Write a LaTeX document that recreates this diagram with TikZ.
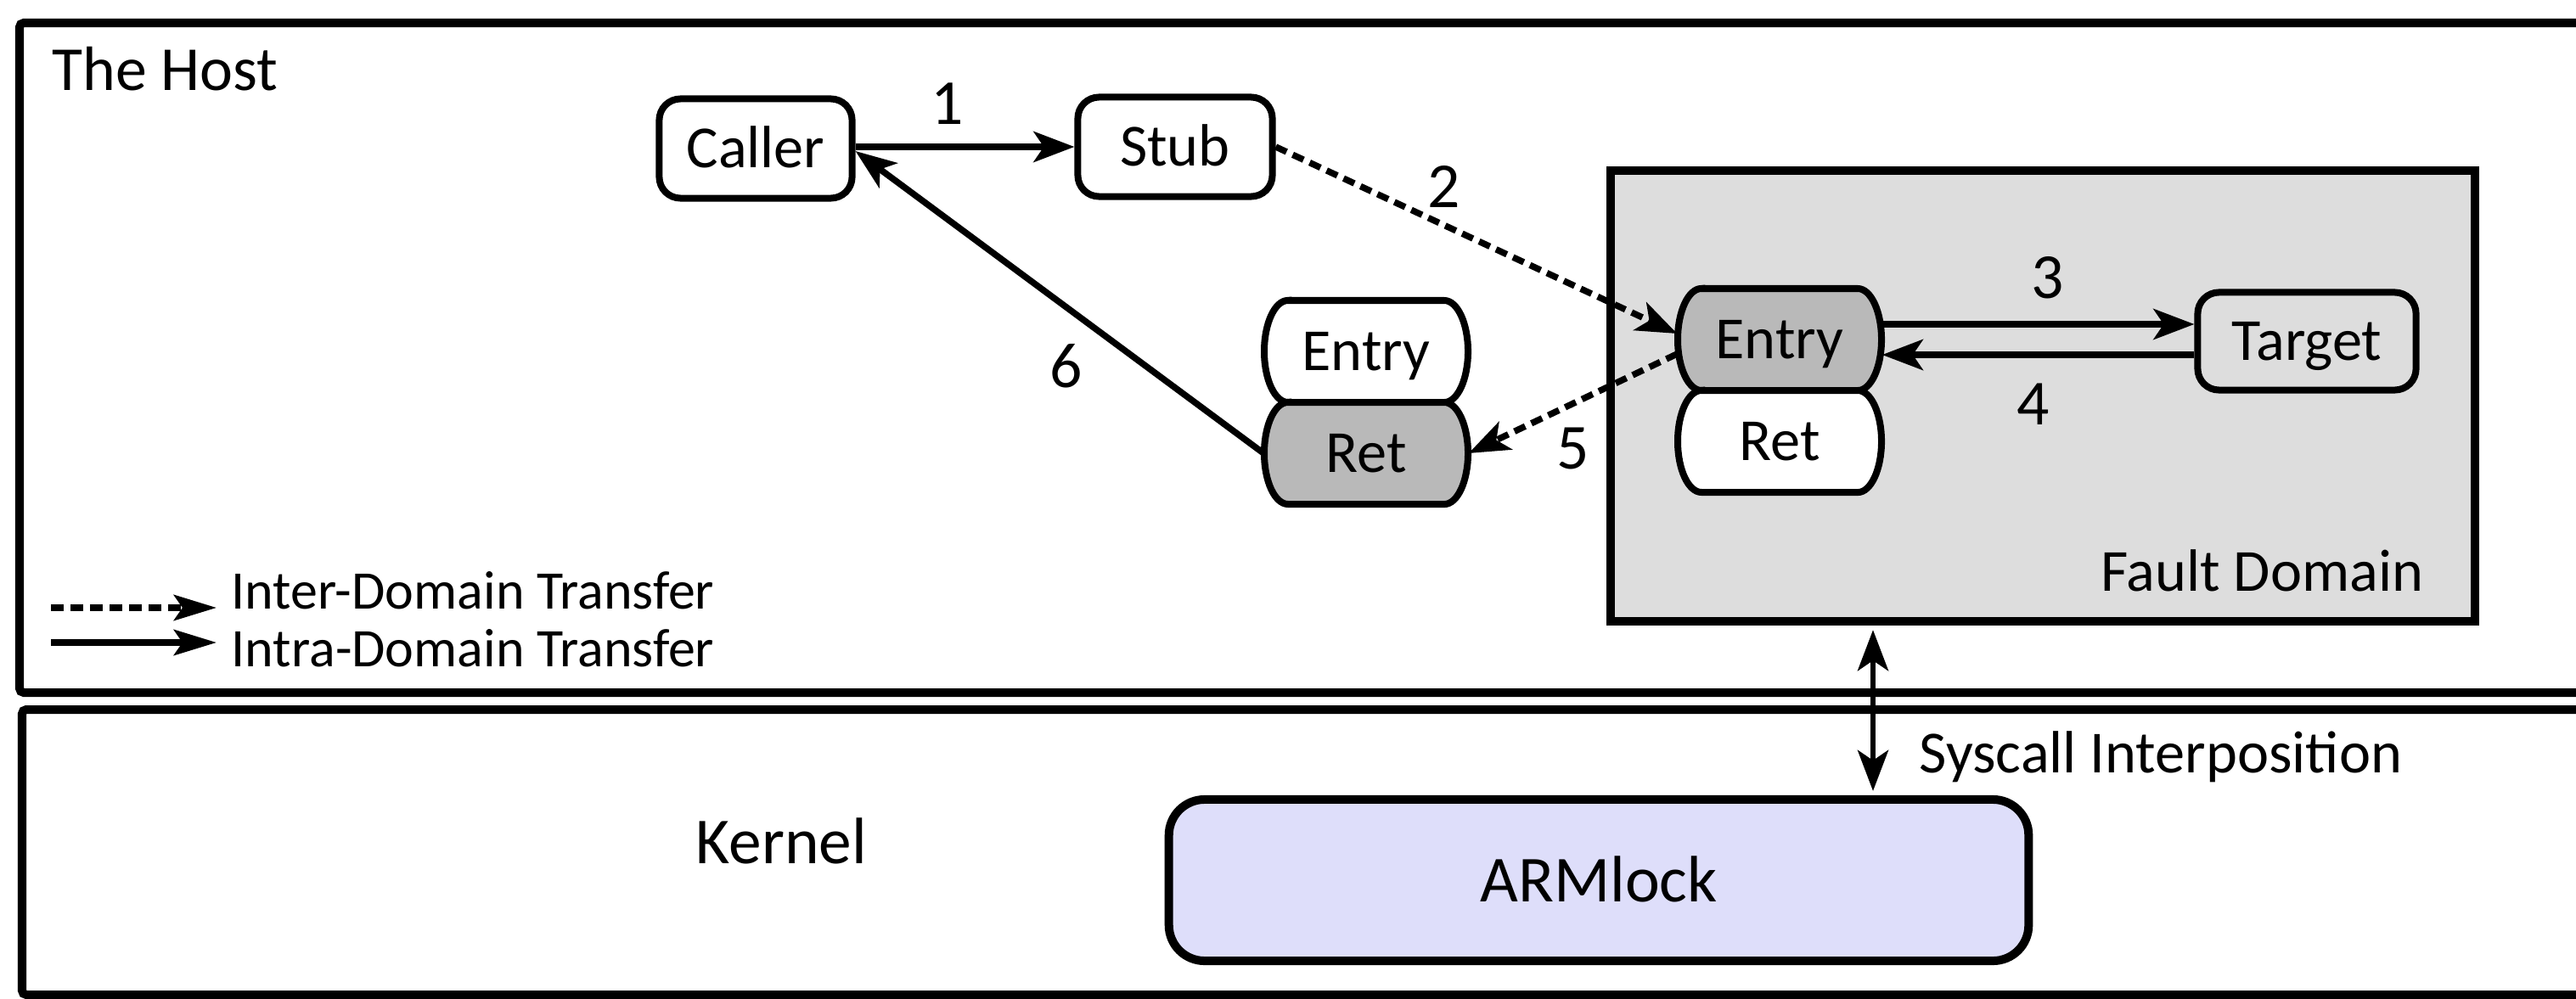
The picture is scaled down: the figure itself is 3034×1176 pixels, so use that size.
\documentclass[tikz,border=0pt]{standalone}
\usepackage{fontspec}
\setmainfont{Carlito}
\usetikzlibrary{arrows.meta}

\definecolor{domaingray}{RGB}{221,221,221}
\definecolor{gategray}{RGB}{185,185,185}
\definecolor{lockfill}{RGB}{222,222,250}

\tikzset{
  frame/.style={line width=0.1cm, rounded corners=0.05cm},
  roundbox/.style={draw, line width=0.08cm, rounded corners=0.25cm, inner sep=0pt,
    text height=0.45cm, text depth=0pt, font=\fontsize{20}{24}\selectfont},
  pilltext/.style={inner sep=0pt, minimum width=2.4cm, minimum height=1.2cm,
    text height=0.45cm, text depth=0pt, font=\fontsize{20}{24}\selectfont},
  headtip/.style={-{Stealth[length=0.48cm, width=0.36cm, inset=0.12cm]}},
  solidflow/.style={headtip, line width=0.075cm},
  dashflow/.style={headtip, line width=0.075cm, dash pattern=on 0.14cm off 0.08cm},
  legendtip/.style={-{Stealth[length=0.5cm, width=0.3cm, inset=0.1cm]}, line width=0.075cm},
  steplabel/.style={font=\fontsize{21.5}{25}\selectfont, inner sep=0pt},
  plainlabel/.style={font=\fontsize{20}{24}\selectfont, inner sep=0pt},
}

% pill-shaped gate (Entry / Ret): centre x, centre y, fill colour
\newcommand\gatepill[3]{%
  \draw[line width=0.08cm, fill=#3]
    (#1-92,#2-60) -- (#1+92,#2-60)
    arc[start angle=90, end angle=-90, x radius=0.28cm, y radius=0.6cm]
    -- (#1-92,#2+60)
    arc[start angle=270, end angle=90, x radius=0.28cm, y radius=0.6cm]
    -- cycle;}

\begin{document}
\begin{tikzpicture}[x=0.01cm, y=-0.01cm]
\useasboundingbox (0,0) rectangle (3034,1176);
\clip (0,0) rectangle (3034,1176);

% user space and kernel frames
\draw[frame] (23,27) rectangle (3120,816);
\draw[frame] (26,836) rectangle (3120,1172);

\node[anchor=base west, inner sep=0pt, font=\fontsize{21}{25}\selectfont] (hostlabel) at (61,107) {The Host};
\node[anchor=base west, inner sep=0pt, font=\fontsize{22}{26}\selectfont] (kernellabel) at (819,1017) {Kernel};

% fault domain
\node[draw, fill=domaingray, line width=0.1cm, minimum width=10.18cm, minimum height=5.31cm, inner sep=0pt] (fault) at (2406,466.5) {};
\node[plainlabel, anchor=base east] (faultlabel) at (2855,696) {Fault Domain};

% kernel monitor
\node[draw, fill=lockfill, line width=0.1cm, rounded corners=0.42cm, minimum width=10.12cm, minimum height=1.9cm,
      inner sep=0pt, text height=0.5cm, text depth=0pt, font=\fontsize{22}{26}\selectfont] (armlock) at (1883,1037) {ARMlock};

% host-side boxes
\node[roundbox, minimum width=2.27cm, minimum height=1.17cm] (caller) at (890,175) {Caller};
\node[roundbox, minimum width=2.29cm, minimum height=1.17cm] (stub) at (1384,173) {Stub};

% gates
\gatepill{1609}{414}{white}
\gatepill{1609}{534}{gategray}
\gatepill{2096}{400}{gategray}
\gatepill{2096}{520}{white}
\node[pilltext] (hentry) at (1609,414) {Entry};
\node[pilltext] (hret) at (1609,534) {Ret};
\node[pilltext] (dentry) at (2096,400) {Entry};
\node[pilltext] (dret) at (2096,520) {Ret};

\node[roundbox, minimum width=2.57cm, minimum height=1.15cm] (target) at (2717,402) {Target};

% transfers
\draw[solidflow] (caller.east |- stub.west) -- (stub.west);
\draw[dashflow] (stub.east) -- ([yshift=0.07cm]dentry.west);
\coordinate (callin) at ([yshift=0.18cm]dentry.east);
\coordinate (callout) at ([yshift=-0.18cm]dentry.east);
\draw[solidflow] (callin) -- (callin -| target.west);
\draw[solidflow] (callout -| target.west) -- (callout);
\draw[dashflow] ([yshift=-0.17cm]dentry.west) -- (hret.east);
\draw[solidflow] (hret.west) -- ([yshift=-0.03cm]caller.east);

\node[steplabel] (n1) at (1116,122) {1};
\node[steplabel] (n2) at (1701,220) {2};
\node[steplabel] (n3) at (2412,327) {3};
\node[steplabel] (n4) at (2395,476) {4};
\node[steplabel] (n5) at (1853,528) {5};
\node[steplabel] (n6) at (1256,431) {6};

% system call path
\coordinate (sysx) at (2206,0);
\draw[{Stealth[length=0.48cm, width=0.36cm, inset=0.12cm]}-{Stealth[length=0.48cm, width=0.36cm, inset=0.12cm]},
      line width=0.065cm, shorten <=0.05cm, shorten >=0.05cm]
  (fault.south -| sysx) -- (armlock.north -| sysx);
\node[plainlabel, anchor=base west] (syslabel) at (2260,910) {Syscall Interposition};

% legend
\node[anchor=base west, inner sep=0pt, font=\fontsize{18.2}{22}\selectfont] (interlabel) at (272,717) {Inter-Domain Transfer};
\node[anchor=base west, inner sep=0pt, font=\fontsize{18.2}{22}\selectfont] (intralabel) at (272,785) {Intra-Domain Transfer};
\coordinate (leginter) at (60,716);
\coordinate (legintra) at (60,757);
\draw[legendtip, dash pattern=on 0.15cm off 0.08cm, shorten >=0.17cm] (leginter) -- (leginter -| interlabel.west);
\draw[legendtip, shorten >=0.17cm] (legintra) -- (legintra -| intralabel.west);
\end{tikzpicture}
\end{document}
